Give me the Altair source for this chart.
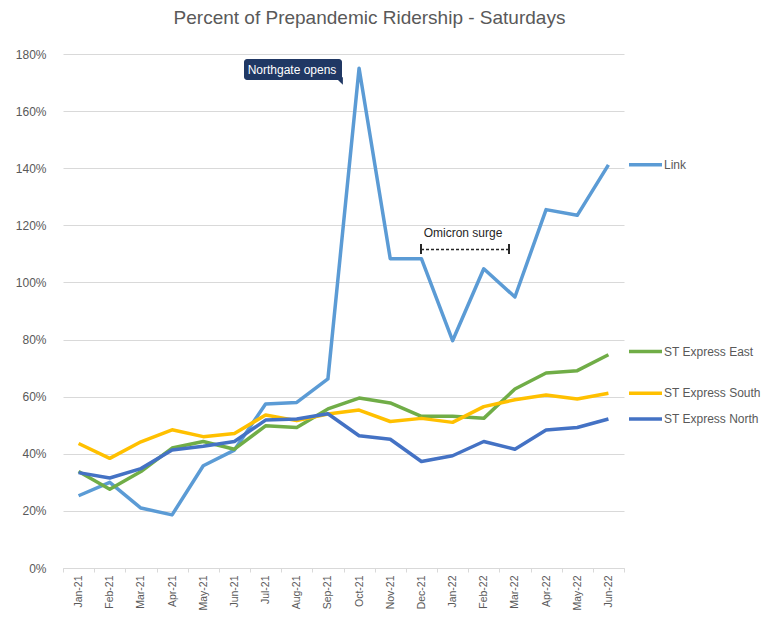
import altair as alt
import pandas as pd

months = ["Jan-21", "Feb-21", "Mar-21", "Apr-21", "May-21", "Jun-21", "Jul-21", "Aug-21",
          "Sep-21", "Oct-21", "Nov-21", "Dec-21", "Jan-22", "Feb-22", "Mar-22", "Apr-22",
          "May-22", "Jun-22"]
link = [25.3, 30.0, 21.0, 18.6, 35.8, 41.3, 57.4, 58.0, 66.2, 175.0, 108.3, 108.3,
        79.6, 104.8, 94.9, 125.5, 123.5, 141.2]
east = [33.8, 27.6, 33.8, 42.0, 44.3, 41.6, 49.8, 49.2, 55.7, 59.5, 57.8, 53.1,
        53.1, 52.4, 62.7, 68.3, 69.1, 74.7]
south = [43.6, 38.4, 44.2, 48.4, 46.0, 47.1, 53.6, 51.6, 53.9, 55.3, 51.3, 52.4,
         51.0, 56.5, 58.9, 60.6, 59.2, 61.2]
north = [33.4, 31.5, 34.8, 41.3, 42.6, 44.3, 51.8, 52.2, 54.0, 46.3, 45.1, 37.3,
         39.3, 44.3, 41.6, 48.3, 49.2, 52.2]
series_names = ["Link", "ST Express East", "ST Express South", "ST Express North"]
legend_at = [141.2, 75.8, 61.2, 52.2]
colors = ["#5B9BD5", "#70AD47", "#FFC000", "#4472C4"]
y_ticks = [0, 20, 40, 60, 80, 100, 120, 140, 160, 180]
omicron_level = [111.5]

FONT = "Liberation Sans, Arial, sans-serif"
GREY = "#595959"

rows = []
for name, vals in zip(series_names, [link, east, south, north]):
    for m, v in zip(months, vals):
        rows.append({"month": m, "series": name, "value": v})
df = pd.DataFrame(rows)
leg = pd.DataFrame({"series": series_names, "value": legend_at})

color = alt.Color("series:N", scale=alt.Scale(domain=series_names, range=colors), legend=None)
yscale = alt.Scale(domain=[0, 180], nice=False)

x_enc = alt.X("month:N", sort=months,
              scale=alt.Scale(type="band", paddingInner=0, paddingOuter=0),
              axis=alt.Axis(title=None, labelAngle=-90, tickBand="extent", grid=False,
                            domainColor="#D9D9D9", tickColor="#D9D9D9", tickSize=4,
                            labelFont=FONT, labelFontSize=10.5, labelColor=GREY,
                            labelPadding=3))
y_enc = alt.Y("value:Q", scale=yscale,
              axis=alt.Axis(title=None, values=y_ticks, labelExpr="datum.value + '%'",
                            domain=False, ticks=False, gridColor="#D9D9D9", gridWidth=1,
                            labelFont=FONT, labelFontSize=12, labelColor=GREY,
                            labelPadding=17))

lines = alt.Chart(df).mark_line(strokeWidth=3.5, strokeJoin="round").encode(
    x=x_enc, y=y_enc, color=color,
    order=alt.Order("month_idx:Q")
).transform_calculate(month_idx="indexof(" + str(months) + ", datum.month)")

leg_rule = alt.Chart(leg).mark_rule(strokeWidth=3.5).encode(
    x=alt.value(566), x2=alt.value(599),
    y=alt.Y("value:Q", scale=yscale), color=color)
leg_text = alt.Chart(leg).mark_text(align="left", baseline="middle", font=FONT,
                                    fontSize=12, color=GREY).encode(
    x=alt.value(601), y=alt.Y("value:Q", scale=yscale), text="series:N")

# Northgate callout
callout_box = alt.Chart(pd.DataFrame({"t": ["Northgate opens"]})).mark_rect(
    color="#203864", cornerRadius=3).encode(
    x=alt.value(181), x2=alt.value(279), y=alt.value(5), y2=alt.value(26))
callout_tail = alt.Chart(pd.DataFrame({"t": ["Northgate opens"]})).mark_point(
    shape="M-1,-1 L1,-1 L1,1 Z", filled=True, color="#203864", size=60, opacity=1).encode(
    x=alt.value(276), y=alt.value(27))
callout_text = alt.Chart(pd.DataFrame({"t": ["Northgate opens"]})).mark_text(
    color="white", font=FONT, fontSize=12, align="center", baseline="middle").encode(
    x=alt.value(229), y=alt.value(15.5), text="t:N")

# Omicron surge annotation
om = pd.DataFrame({"level": omicron_level, "t": ["Omicron surge"]})
om_rule = alt.Chart(om).mark_rule(color="#262626", strokeWidth=1.5, strokeDash=[3, 2]).encode(
    x=alt.value(358), x2=alt.value(446), y=alt.Y("level:Q", scale=yscale))
om_cap1 = alt.Chart(om).mark_rule(color="#262626", strokeWidth=2).encode(
    x=alt.value(358), y=alt.value(190), y2=alt.value(200))
om_cap2 = alt.Chart(om).mark_rule(color="#262626", strokeWidth=2).encode(
    x=alt.value(446), y=alt.value(190), y2=alt.value(200))
om_text = alt.Chart(om).mark_text(color="#262626", font=FONT, fontSize=12,
                                  align="center", baseline="middle").encode(
    x=alt.value(400), y=alt.value(179), text="t:N")

chart = alt.layer(
    lines, leg_rule, leg_text, callout_box, callout_tail, callout_text,
    om_rule, om_cap1, om_cap2, om_text
).properties(
    width=561, height=514,
    padding={"left": 55, "top": 46, "right": 137, "bottom": 43},
    autosize=alt.AutoSizeParams(type="none"),
    view=alt.ViewBackground(strokeWidth=0, stroke="transparent"),
    title=alt.TitleParams("Percent of Prepandemic Ridership  - Saturdays", font=FONT,
                          fontSize=19, fontWeight="normal", color=GREY,
                          anchor="middle", dx=26, offset=20),
).configure_view(strokeWidth=0, strokeOpacity=0).configure(background="white")

chart.save("out.html", embed_options={"renderer": "svg", "actions": False})
